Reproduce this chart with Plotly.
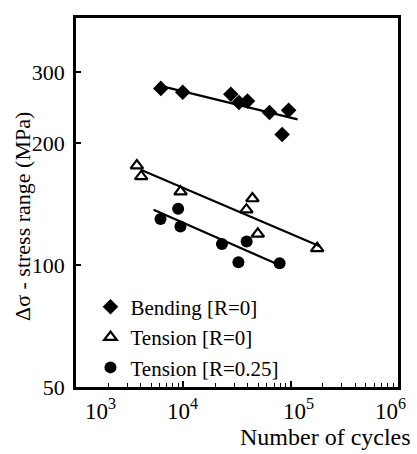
import numpy as np
import plotly.graph_objects as go

# ---------------- data ----------------
bend_n = [6170, 9870, 27700, 33000, 39600, 63500, 95700, 83300]
bend_s = [273, 267, 264, 252, 254, 238, 241, 210]
bend_fit_n = [6110, 116000]
bend_fit_s = [277, 229]

ten0_n = [3690, 4050, 9420, 44000, 38700, 49400, 176600]
ten0_s = [176, 165.5, 151.8, 146, 137, 119.4, 110]
ten0_fit_n = [4010, 186700]
ten0_fit_s = [172, 111.3]

ten25_n = [6130, 8950, 9400, 22900, 38900, 32600, 78900]
ten25_s = [130, 137.7, 124.5, 112.7, 114.4, 101.6, 101]
ten25_fit_n = [5280, 78300]
ten25_fit_s = [137, 100]

y_ticks = [50, 100, 200, 300]
x_decades = [3, 4, 5, 6]
x_tick_labels = ["10<sup>3</sup>", "10<sup>4</sup>", "10<sup>5</sup>", "10<sup>6</sup>"]

series_names = ["Bending [R=0]", "Tension [R=0]", "Tension [R=0.25]"]

# ---------------- figure ----------------
FONT = "serif"
W, H = 417, 454
ML, MR, MT, MB = 76, 19, 18, 67
PW, PH = W - ML - MR, H - MT - MB

fig = go.Figure()

for fn, fs in [(bend_fit_n, bend_fit_s), (ten0_fit_n, ten0_fit_s), (ten25_fit_n, ten25_fit_s)]:
    fig.add_trace(go.Scatter(x=fn, y=fs, mode="lines", line=dict(color="black", width=2.2),
                             showlegend=False, hoverinfo="skip"))

fig.add_trace(go.Scatter(x=bend_n, y=bend_s, mode="markers", name=series_names[0],
                         marker=dict(symbol="diamond", size=12, color="black")))
fig.add_trace(go.Scatter(x=ten0_n, y=ten0_s, mode="markers", name=series_names[1],
                         marker=dict(symbol="triangle-up-open", size=11, color="black",
                                     line=dict(width=2.2, color="black"))))
fig.add_trace(go.Scatter(x=ten25_n, y=ten25_s, mode="markers", name=series_names[2],
                         marker=dict(symbol="circle", size=12, color="black")))

# invisible trace that carries the decade labels on an overlaid x axis
fig.add_trace(go.Scatter(x=[10 ** x_decades[0]], y=[y_ticks[0]], mode="markers",
                         marker=dict(opacity=0), xaxis="x2", showlegend=False, hoverinfo="skip"))

minor_vals = [m * 10 ** d for d in x_decades[:-1] for m in range(2, 10)]
label_pos = [3.228, 3.992, 5.073, 5.93]

fig.update_layout(
    width=W, height=H,
    margin=dict(l=ML, r=MR, t=MT, b=MB),
    paper_bgcolor="white", plot_bgcolor="white",
    font=dict(family=FONT, size=22, color="black"),
    xaxis=dict(type="log", range=[3, 6], showgrid=False, zeroline=False,
               showline=True, mirror=True, linecolor="black", linewidth=2.5,
               tickvals=[10 ** d for d in x_decades[1:-1]], ticks="inside", ticklen=6,
               tickwidth=1.5, tickcolor="black", showticklabels=False,
               minor=dict(tickvals=minor_vals, ticks="inside", ticklen=4, tickwidth=1.3,
                          tickcolor="black", showgrid=False)),
    xaxis2=dict(type="log", range=[3, 6], overlaying="x", anchor="y", side="bottom",
                showgrid=False, zeroline=False, showline=False, ticks="",
                tickvals=[10 ** p for p in label_pos], ticktext=x_tick_labels,
                tickfont=dict(family=FONT, size=23, color="black"), ticklabelstandoff=8),
    yaxis=dict(type="log", range=[np.log10(50), 2.610], showgrid=False, zeroline=False,
               showline=True, mirror=True, linecolor="black", linewidth=2.5,
               tickvals=y_ticks, ticktext=[str(v) for v in y_ticks], ticks="inside",
               ticklen=5, tickwidth=2, tickcolor="black",
               tickfont=dict(family=FONT, size=22, color="black"), ticklabelstandoff=4),
    legend=dict(x=0.045, y=0.272, xanchor="left", yanchor="top", bgcolor="rgba(0,0,0,0)",
                font=dict(family=FONT, size=21, color="black")),
    showlegend=True,
    annotations=[
        dict(text="Δσ - stress range (MPa)", textangle=-90, xref="paper", yref="paper",
             x=(23 - ML) / PW, y=(H - MB - 217) / PH,
             xanchor="center", yanchor="middle", showarrow=False,
             font=dict(family=FONT, size=22, color="black")),
        dict(text="Number of cycles", xref="paper", yref="paper",
             x=(413 - ML) / PW, y=(H - MB - 437) / PH,
             xanchor="right", yanchor="middle", showarrow=False,
             font=dict(family=FONT, size=24, color="black")),
    ],
)

fig.write_html("out.html")
